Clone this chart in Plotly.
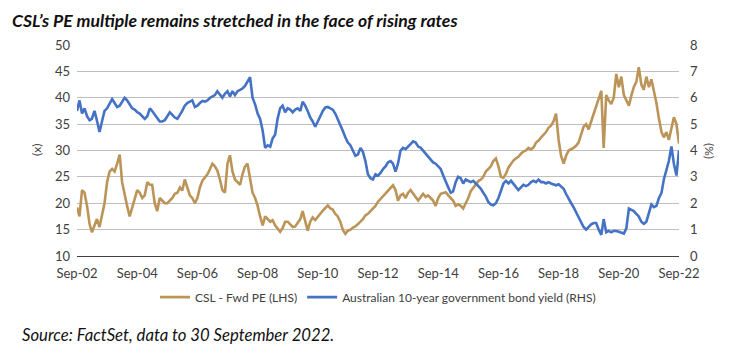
import pandas as pd
import plotly.graph_objects as go

start_month = "2002-09-01"
tick_labels = ["Sep-02", "Sep-04", "Sep-06", "Sep-08", "Sep-10", "Sep-12",
               "Sep-14", "Sep-16", "Sep-18", "Sep-20", "Sep-22"]

csl_pe = [
    19.2, 17.5, 22.5, 22.0, 19.5, 16.0, 14.5, 16.0, 17.0, 15.5,
    18.0, 20.0, 24.0, 26.0, 26.5, 26.0, 27.5, 29.2, 24.0, 21.5,
    19.5, 17.5, 19.0, 21.0, 22.5, 22.0, 21.0, 21.5, 24.0, 23.5,
    23.5, 20.0, 18.5, 21.0, 20.5, 20.0, 20.0, 20.5, 21.0, 21.8,
    22.0, 23.0, 22.4, 24.5, 23.0, 21.5, 21.0, 20.0, 21.0, 23.0,
    24.3, 25.0, 25.5, 26.5, 27.5, 27.0, 26.2, 24.5, 22.5, 22.0,
    27.5, 29.1, 26.0, 24.5, 24.0, 23.5, 25.5, 27.0, 27.5, 24.5,
    22.0, 21.0, 19.5, 17.5, 15.8, 17.5, 17.0, 16.5, 16.8, 15.8,
    15.2, 14.6, 15.3, 16.5, 16.5, 16.0, 15.5, 15.6, 16.2, 17.0,
    18.5, 16.5, 14.8, 16.5, 17.3, 16.8, 17.5, 18.0, 18.6, 19.0,
    19.6, 19.0, 18.8, 18.0, 17.5, 16.5, 15.0, 14.2, 14.8, 15.0,
    15.4, 15.6, 16.0, 16.5, 17.0, 17.7, 18.0, 18.5, 18.9, 19.5,
    20.3, 20.8, 21.5, 22.0, 22.5, 23.0, 23.4, 22.5, 20.5, 21.5,
    21.8, 21.0, 22.0, 22.5, 21.8, 21.0, 20.5, 21.2, 21.8, 21.2,
    21.5, 21.0, 20.5, 19.5, 21.0, 21.8, 22.0, 22.1, 21.5, 21.0,
    20.5, 19.5, 19.8, 19.5, 19.0, 20.0, 21.0, 22.3, 23.0, 23.5,
    24.2, 24.5, 25.0, 26.0, 26.5, 27.0, 28.0, 28.5, 27.0, 25.0,
    24.8, 25.6, 26.8, 27.5, 28.1, 28.5, 28.8, 29.4, 29.8, 30.0,
    30.5, 30.2, 30.6, 31.5, 31.9, 32.5, 33.0, 33.5, 34.3, 34.7,
    35.5, 37.0, 32.0, 29.0, 27.5, 29.0, 30.0, 30.2, 30.5, 30.9,
    31.5, 33.0, 34.5, 35.0, 34.0, 35.5, 37.0, 38.2, 40.0, 41.3,
    30.5, 40.5, 39.5, 38.8, 40.0, 44.5, 42.0, 44.0, 40.5, 39.5,
    38.5, 40.5, 42.0, 43.0, 45.8, 42.5, 41.5, 44.0, 42.0, 43.5,
    41.5, 39.0, 36.0, 33.5, 32.5, 33.5, 32.0, 34.5, 36.3, 35.0,
    31.3,
]

bond_yield = [
    5.5, 5.9, 5.4, 5.6, 5.3, 5.15, 5.2, 5.5, 5.14, 4.7,
    5.1, 5.5, 5.6, 5.8, 5.95, 5.8, 5.65, 5.7, 5.85, 6.0,
    5.9, 5.75, 5.6, 5.55, 5.45, 5.4, 5.3, 5.2, 5.3, 5.6,
    5.5, 5.35, 5.2, 5.1, 5.1, 5.15, 5.3, 5.45, 5.35, 5.25,
    5.2, 5.35, 5.5, 5.7, 5.8, 5.85, 5.9, 5.65, 5.7, 5.8,
    5.88, 5.85, 5.9, 6.0, 6.05, 6.1, 6.25, 6.1, 6.0, 6.15,
    6.25, 6.05, 6.25, 6.1, 6.25, 6.3, 6.35, 6.45, 6.6, 6.78,
    6.0, 5.75, 5.4, 5.2, 4.75, 4.1, 4.2, 4.15, 4.45, 4.6,
    5.2, 5.6, 5.7, 5.45, 5.6, 5.55, 5.45, 5.55, 5.6, 5.5,
    5.85, 5.7, 5.5, 5.25, 5.1, 4.9, 5.1, 5.3, 5.5, 5.63,
    5.65, 5.6, 5.55, 5.4, 5.2, 5.0, 4.75, 4.5, 4.3, 4.2,
    4.0, 3.8, 3.85, 4.1, 3.95, 3.6, 3.1, 2.95, 2.9, 3.1,
    3.05, 3.15, 3.3, 3.4, 3.55, 3.6, 3.5, 3.2, 3.5, 4.0,
    4.1, 4.05, 4.15, 4.25, 4.35, 4.3, 4.15, 4.1, 4.0, 3.9,
    3.75, 3.65, 3.55, 3.5, 3.4, 3.3, 3.05, 2.8, 2.6, 2.4,
    2.45, 2.8, 3.0, 2.95, 2.75, 2.9, 2.85, 2.8, 2.85, 2.75,
    2.65, 2.55, 2.4, 2.25, 2.05, 1.95, 1.92, 2.0, 2.2, 2.5,
    2.75, 2.85, 2.75, 2.85, 2.75, 2.6, 2.5, 2.6, 2.7, 2.65,
    2.7, 2.8, 2.85, 2.8, 2.9, 2.8, 2.8, 2.75, 2.8, 2.75,
    2.7, 2.68, 2.72, 2.65, 2.55, 2.35, 2.15, 2.0, 1.85, 1.65,
    1.45, 1.25, 1.1, 1.0, 1.1, 1.2, 1.25, 1.25, 1.0, 0.8,
    1.4, 0.9, 0.95, 0.9, 0.95, 0.95, 0.92, 0.88, 0.85, 1.05,
    1.8, 1.75, 1.7, 1.6, 1.5, 1.3, 1.22, 1.3, 1.6, 1.95,
    1.85, 1.9, 2.2, 2.4, 2.9, 3.3, 3.6, 4.15, 3.5, 3.05,
    4.0,
]

dates = pd.date_range(start_month, periods=len(csl_pe), freq="MS")
tick_vals = pd.date_range(start_month, periods=len(tick_labels), freq="24MS")

TAN = "#BC9458"
BLUE = "#4472C4"
FONT = "Lato, 'Open Sans', sans-serif"
TXT = "#404040"

fig = go.Figure()
fig.add_trace(go.Scatter(x=dates, y=csl_pe, name="CSL - Fwd PE (LHS)",
                         mode="lines", line=dict(color=TAN, width=2.6),
                         yaxis="y"))
fig.add_trace(go.Scatter(x=dates, y=bond_yield,
                         name="Australian 10-year government bond yield (RHS)",
                         mode="lines", line=dict(color=BLUE, width=2.6),
                         yaxis="y2"))

fig.update_layout(
    width=742, height=353,
    margin=dict(l=77, r=63, t=45, b=97),
    paper_bgcolor="white", plot_bgcolor="white",
    font=dict(family=FONT, size=13, color=TXT),
    showlegend=True,
    legend=dict(orientation="h", x=0.5, xanchor="center", y=-0.195,
                yanchor="middle", font=dict(size=12, color=TXT),
                itemwidth=30, tracegroupgap=0),
    xaxis=dict(type="date", range=[dates[0], dates[-1]],
               tickvals=tick_vals, ticktext=tick_labels,
               showgrid=False, showline=True, linecolor="#404040",
               linewidth=1.2, ticks="", zeroline=False,
               ticklabelstandoff=5,
               tickfont=dict(size=13, color=TXT)),
    yaxis=dict(range=[10, 50], dtick=5, showgrid=True, gridcolor="#BFBFBF",
               gridwidth=1, zeroline=False, ticks="", showline=False,
               ticklabelstandoff=6,
               tickfont=dict(size=13, color=TXT)),
    yaxis2=dict(range=[0, 8], dtick=1, overlaying="y", side="right",
                showgrid=False, zeroline=False, ticks="", showline=False,
                ticklabelstandoff=10,
                tickfont=dict(size=13, color=TXT)),
)

fig.add_annotation(text="<b><i>CSL’s PE multiple remains stretched in the face of rising rates</i></b>",
                   xref="paper", yref="paper", x=-67/602, y=1 + 25/211,
                   xanchor="left", yanchor="middle", showarrow=False,
                   font=dict(family=FONT, size=17.6, color="#111111"))
fig.add_annotation(text="(x)", xref="paper", yref="paper", x=-50/602, y=0.5,
                   textangle=-90, showarrow=False,
                   font=dict(family=FONT, size=12, color=TXT))
fig.add_annotation(text="(%)", xref="paper", yref="paper", x=1 + 40/602, y=0.5,
                   textangle=90, showarrow=False,
                   font=dict(family=FONT, size=12, color=TXT))
fig.add_annotation(text="<i>Source: FactSet, data to 30 September 2022.</i>",
                   xref="paper", yref="paper", x=-57/602, y=-79/211,
                   xanchor="left", yanchor="middle", showarrow=False,
                   font=dict(family=FONT, size=16.7, color="#111111"))

fig.write_html("out.html")
